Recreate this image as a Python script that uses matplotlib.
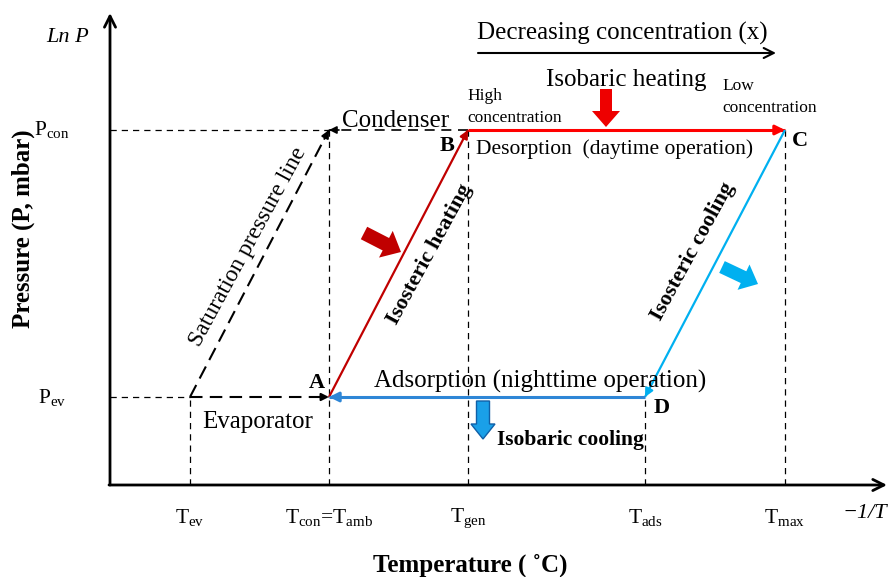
import matplotlib
matplotlib.use('Agg')
import matplotlib.pyplot as plt
from matplotlib.patches import FancyArrow

plt.rcParams['font.family'] = ['Liberation Serif', 'DejaVu Serif']
plt.rcParams['mathtext.fontset'] = 'custom'
plt.rcParams['mathtext.rm'] = 'Liberation Serif'
plt.rcParams['mathtext.it'] = 'Liberation Serif:italic'
plt.rcParams['mathtext.bf'] = 'Liberation Serif:bold'

# schematic positions on the -1/T axis and the Ln P axis
temp_keys = ['ev', 'con', 'gen', 'ads', 'max']
temp_pos = [80, 219, 358, 535, 675]
temp_labels = [r'T$_{\mathrm{ev}}$', r'T$_{\mathrm{con}}$=T$_{\mathrm{amb}}$',
               r'T$_{\mathrm{gen}}$', r'T$_{\mathrm{ads}}$', r'T$_{\mathrm{max}}$']
press_keys = ['ev', 'con']
press_pos = [88, 355]
press_labels = [r'P$_{\mathrm{ev}}$', r'P$_{\mathrm{con}}$']

T = dict(zip(temp_keys, temp_pos))
P = dict(zip(press_keys, press_pos))

# cycle states
A = (T['con'], P['ev'])
B = (T['gen'], P['con'])
C = (T['max'], P['con'])
D = (T['ads'], P['ev'])

RED_DARK = '#c00000'
RED = '#ff0000'
BLUE_LIGHT = '#00b0f0'
BLUE = '#2e86d6'

fig = plt.figure(figsize=(8.92, 5.77), dpi=100, facecolor='white')
ax = fig.add_axes([0, 0, 1, 1])
ax.set_xlim(-110, 782)
ax.set_ylim(-92, 485)
ax.axis('off')


def arrow(p0, p1, color='black', lw=1.2, dash=None, scale=12):
    ax.plot([p0[0], p1[0]], [p0[1], p1[1]], color=color, lw=lw,
            dashes=dash if dash else (None, None), solid_capstyle='butt')
    dx, dy = p1[0] - p0[0], p1[1] - p0[1]
    n = (dx ** 2 + dy ** 2) ** 0.5
    q = (p1[0] - dx / n * 10, p1[1] - dy / n * 10)
    ax.annotate('', xy=p1, xytext=q,
                arrowprops=dict(arrowstyle='-|>', color=color, lw=lw,
                                shrinkA=0, shrinkB=0, mutation_scale=scale))


def dashed(p0, p1, lw=0.9, dash=(5, 4)):
    ax.plot([p0[0], p1[0]], [p0[1], p1[1]], color='black', lw=lw,
            dashes=dash)


# axes
ax.annotate('', xy=(0, 472), xytext=(0, 0),
            arrowprops=dict(arrowstyle='->', lw=2, color='black',
                            shrinkA=0, shrinkB=0, mutation_scale=20))
ax.annotate('', xy=(777, 0), xytext=(-1, 0),
            arrowprops=dict(arrowstyle='->', lw=2, color='black',
                            shrinkA=0, shrinkB=0, mutation_scale=20))
ax.text(-42, 448, 'Ln P', fontsize=16, style='italic', ha='center', va='center')
ax.text(755, -29, '\u22121/T', fontsize=16, style='italic', ha='center', va='center')

# guide lines
dashed((0, P['con']), (T['con'], P['con']))
dashed((0, P['ev']), (T['ev'], P['ev']))
dashed((T['ev'], 0), (T['ev'], P['ev']))
dashed((T['con'], 0), (T['con'], P['con']))
dashed((T['gen'], 0), (T['gen'], P['con']))
dashed((T['ads'], 0), (T['ads'], P['ev']))
dashed((T['max'], 0), (T['max'], P['con']))

# evaporator, saturation line, condenser
arrow((T['ev'], P['ev']), A, lw=1.5, dash=(6, 3.5), scale=11)
arrow((T['ev'], P['ev']), (T['con'], P['con']), lw=1.5, dash=(6.5, 3.5), scale=11)
arrow(B, (T['con'], P['con']), lw=1.2, dash=(6, 4), scale=11)

# cycle
arrow(A, B, color=RED_DARK, lw=1.6, scale=12)
arrow(B, C, color=RED, lw=2.2, scale=14)
arrow(C, D, color=BLUE_LIGHT, lw=1.6, scale=12)
arrow(D, A, color=BLUE, lw=2.2, scale=14)

# tick labels
for x, lab in zip(temp_pos, temp_labels):
    ax.text(x, -33, lab, fontsize=15.5, ha='center', va='center')
for y, lab in zip(press_pos, press_labels):
    ax.text(-58, y, lab, fontsize=15.5, ha='center', va='center')

ax.text(-87, 256, 'Pressure (P, mbar)', fontsize=18, fontweight='bold',
        rotation=90, ha='center', va='center')
ax.text(360, -80, 'Temperature ( \u02daC)', fontsize=18, fontweight='bold',
        ha='center', va='center')

# state labels
for name, pos in [('A', (207, 102)), ('B', (337, 339)), ('C', (690, 344)), ('D', (552, 77))]:
    ax.text(pos[0], pos[1], name, fontsize=16, fontweight='bold', ha='center', va='center')

# annotations
ax.text(512, 452, 'Decreasing concentration (x)', fontsize=18, ha='center', va='center')
ax.annotate('', xy=(666, 432), xytext=(368, 432),
            arrowprops=dict(arrowstyle='->', lw=1.5, color='black',
                            shrinkA=0, shrinkB=0, mutation_scale=18))
ax.text(516, 405, 'Isobaric heating', fontsize=18, ha='center', va='center')
ax.text(357, 378, 'High\nconcentration', fontsize=12.5, ha='left', va='center',
        linespacing=1.45)
ax.text(612, 388, 'Low\nconcentration', fontsize=12.5, ha='left', va='center',
        linespacing=1.45)
ax.text(366, 336, 'Desorption  (daytime operation)', fontsize=15.5, ha='left', va='center')
ax.text(286, 364, 'Condenser', fontsize=18, ha='center', va='center')
ax.text(138, 238, 'Saturation pressure line', fontsize=17, rotation=61.5,
        ha='center', va='center', rotation_mode='anchor')
ax.text(320, 231, 'Isosteric heating', fontsize=16, fontweight='bold', rotation=61.5,
        ha='center', va='center', rotation_mode='anchor')
ax.text(583, 233, 'Isosteric cooling', fontsize=16, fontweight='bold', rotation=61.5,
        ha='center', va='center', rotation_mode='anchor')
ax.text(430, 104, 'Adsorption (nighttime operation)', fontsize=18, ha='center', va='center')
ax.text(148, 63, 'Evaporator', fontsize=18, ha='center', va='center')
ax.text(460, 45, 'Isobaric cooling', fontsize=15.5, fontweight='bold', ha='center', va='center')

# heat flow arrows
ax.add_patch(FancyArrow(496, 396, 0, -38, width=12, head_width=28, head_length=16,
                        length_includes_head=True, color='#ee0000', lw=0))
ax.add_patch(FancyArrow(254, 252, 37, -19, width=14, head_width=30, head_length=17,
                        length_includes_head=True, color=RED_DARK, lw=0))
ax.add_patch(FancyArrow(612, 218, 36, -17, width=13, head_width=28, head_length=16,
                        length_includes_head=True, color=BLUE_LIGHT, lw=0))
ax.add_patch(FancyArrow(373, 84, 0, -38, width=13, head_width=24, head_length=15,
                        length_includes_head=True, facecolor='#1aa0e8',
                        edgecolor='#1060a8', lw=1))

fig.savefig('out.png', dpi=100, facecolor='white')
